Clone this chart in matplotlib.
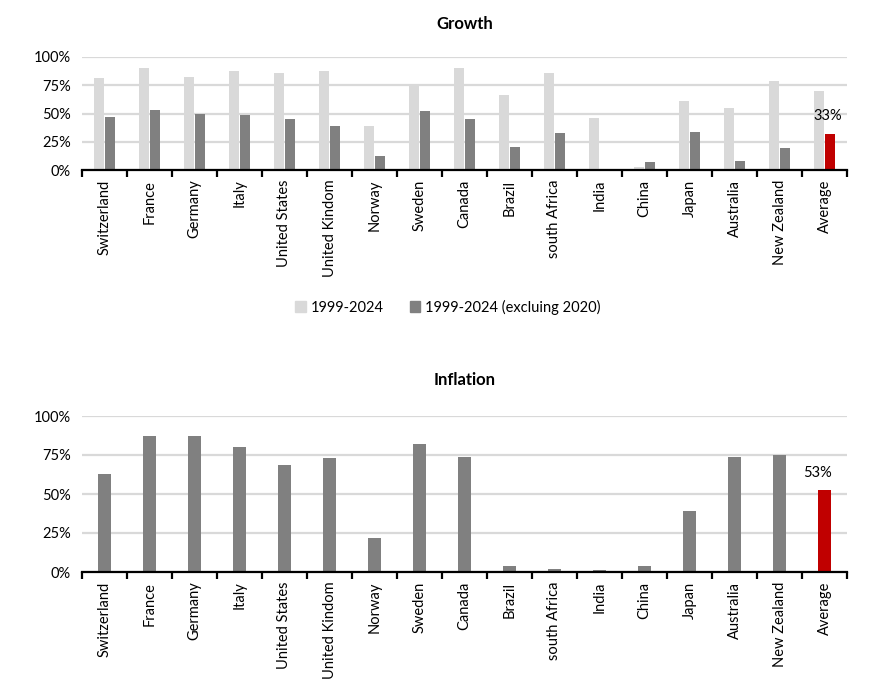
import matplotlib
matplotlib.use("Agg")
import matplotlib.pyplot as plt
import numpy as np
from matplotlib.patches import Patch

countries = ["Switzerland", "France", "Germany", "Italy", "United States", "United Kindom",
             "Norway", "Sweden", "Canada", "Brazil", "south Africa", "India", "China",
             "Japan", "Australia", "New Zealand", "Average"]
growth_all = [0.81, 0.90, 0.82, 0.88, 0.86, 0.88, 0.39, 0.76, 0.90, 0.66, 0.86, 0.46, 0.03,
              0.61, 0.55, 0.79, 0.70]
growth_ex2020 = [0.47, 0.53, 0.50, 0.49, 0.45, 0.39, 0.12, 0.52, 0.45, 0.20, 0.33, 0.0, 0.07,
                 0.34, 0.08, 0.195, 0.32]
inflation = [0.63, 0.87, 0.87, 0.80, 0.685, 0.73, 0.22, 0.82, 0.74, 0.036, 0.017, 0.011, 0.036,
             0.39, 0.74, 0.75, 0.524]
growth_avg_label = "33%"
inflation_avg_label = "53%"
legend_labels = ["1999-2024", "1999-2024 (excluing 2020)"]
yticks = [0, 0.25, 0.5, 0.75, 1.0]
ytick_labels = ["0%", "25%", "50%", "75%", "100%"]

LIGHT = "#d9d9d9"
DARK = "#808080"
RED = "#c00000"
GRID = "#d9d9d9"

plt.rcParams['font.family'] = ['Lato', 'DejaVu Sans']

W, H = 874, 689
fig = plt.figure(figsize=(W / 100, H / 100), dpi=100)

def ax_rect(x0, y0, x1, y1):
    return [x0 / W, 1 - y1 / H, (x1 - x0) / W, (y1 - y0) / H]

def style_axes(ax, n):
    ax.set_xlim(-0.5, n - 0.5)
    ax.set_ylim(0, 1.0)
    ax.set_yticks(yticks)
    ax.set_yticklabels(ytick_labels, fontsize=10.5)
    ax.yaxis.grid(True, color=GRID, linewidth=1.6)
    ax.set_axisbelow(True)
    for s in ["top", "right", "left"]:
        ax.spines[s].set_visible(False)
    ax.spines["bottom"].set_linewidth(1.6)
    ax.spines["bottom"].set_color("black")
    ax.tick_params(axis="y", length=0, pad=8)
    ax.set_xticks(np.arange(n))
    ax.set_xticklabels(countries, rotation=90, fontsize=10.5)
    ax.tick_params(axis="x", which="major", length=0, pad=7)
    ax.set_xticks(np.arange(n + 1) - 0.5, minor=True)
    ax.tick_params(axis="x", which="minor", length=5, width=1.6, color="black")

n = len(countries)
x = np.arange(n)

# Growth
ax1 = fig.add_axes(ax_rect(82, 57, 847, 170))
bw = 0.23
gap = 0.02
colors_dark = [DARK] * (n - 1) + [RED]
ax1.bar(x - bw / 2 - gap / 2, growth_all, width=bw, color=LIGHT, label=legend_labels[0])
ax1.bar(x + bw / 2 + gap / 2, growth_ex2020, width=bw, color=colors_dark, label=legend_labels[1])
style_axes(ax1, n)
ax1.text(x[-1] + bw / 2 + gap / 2 - 0.05, growth_ex2020[-1] + 0.10, growth_avg_label,
         ha="center", va="bottom", fontsize=10.5)
ax1.set_title("Growth", fontsize=12, fontweight="bold", pad=20.5)

handles = [Patch(color=LIGHT), Patch(color=DARK)]
fig.legend(handles, legend_labels, loc="center", bbox_to_anchor=(448 / W, 1 - 307 / H),
           ncol=2, frameon=False, fontsize=10.5, handlelength=0.7, handleheight=0.7,
           columnspacing=1.8, handletextpad=0.35)

# Inflation
ax2 = fig.add_axes(ax_rect(82, 416, 847, 572))
bw2 = 0.31
colors_inf = [DARK] * (n - 1) + [RED]
ax2.bar(x, inflation, width=bw2, color=colors_inf)
style_axes(ax2, n)
ax2.text(x[-1] - 0.15, inflation[-1] + 0.065, inflation_avg_label,
         ha="center", va="bottom", fontsize=10.5)
ax2.set_title("Inflation", fontsize=12, fontweight="bold", pad=22)

fig.savefig("out.png", dpi=100)
